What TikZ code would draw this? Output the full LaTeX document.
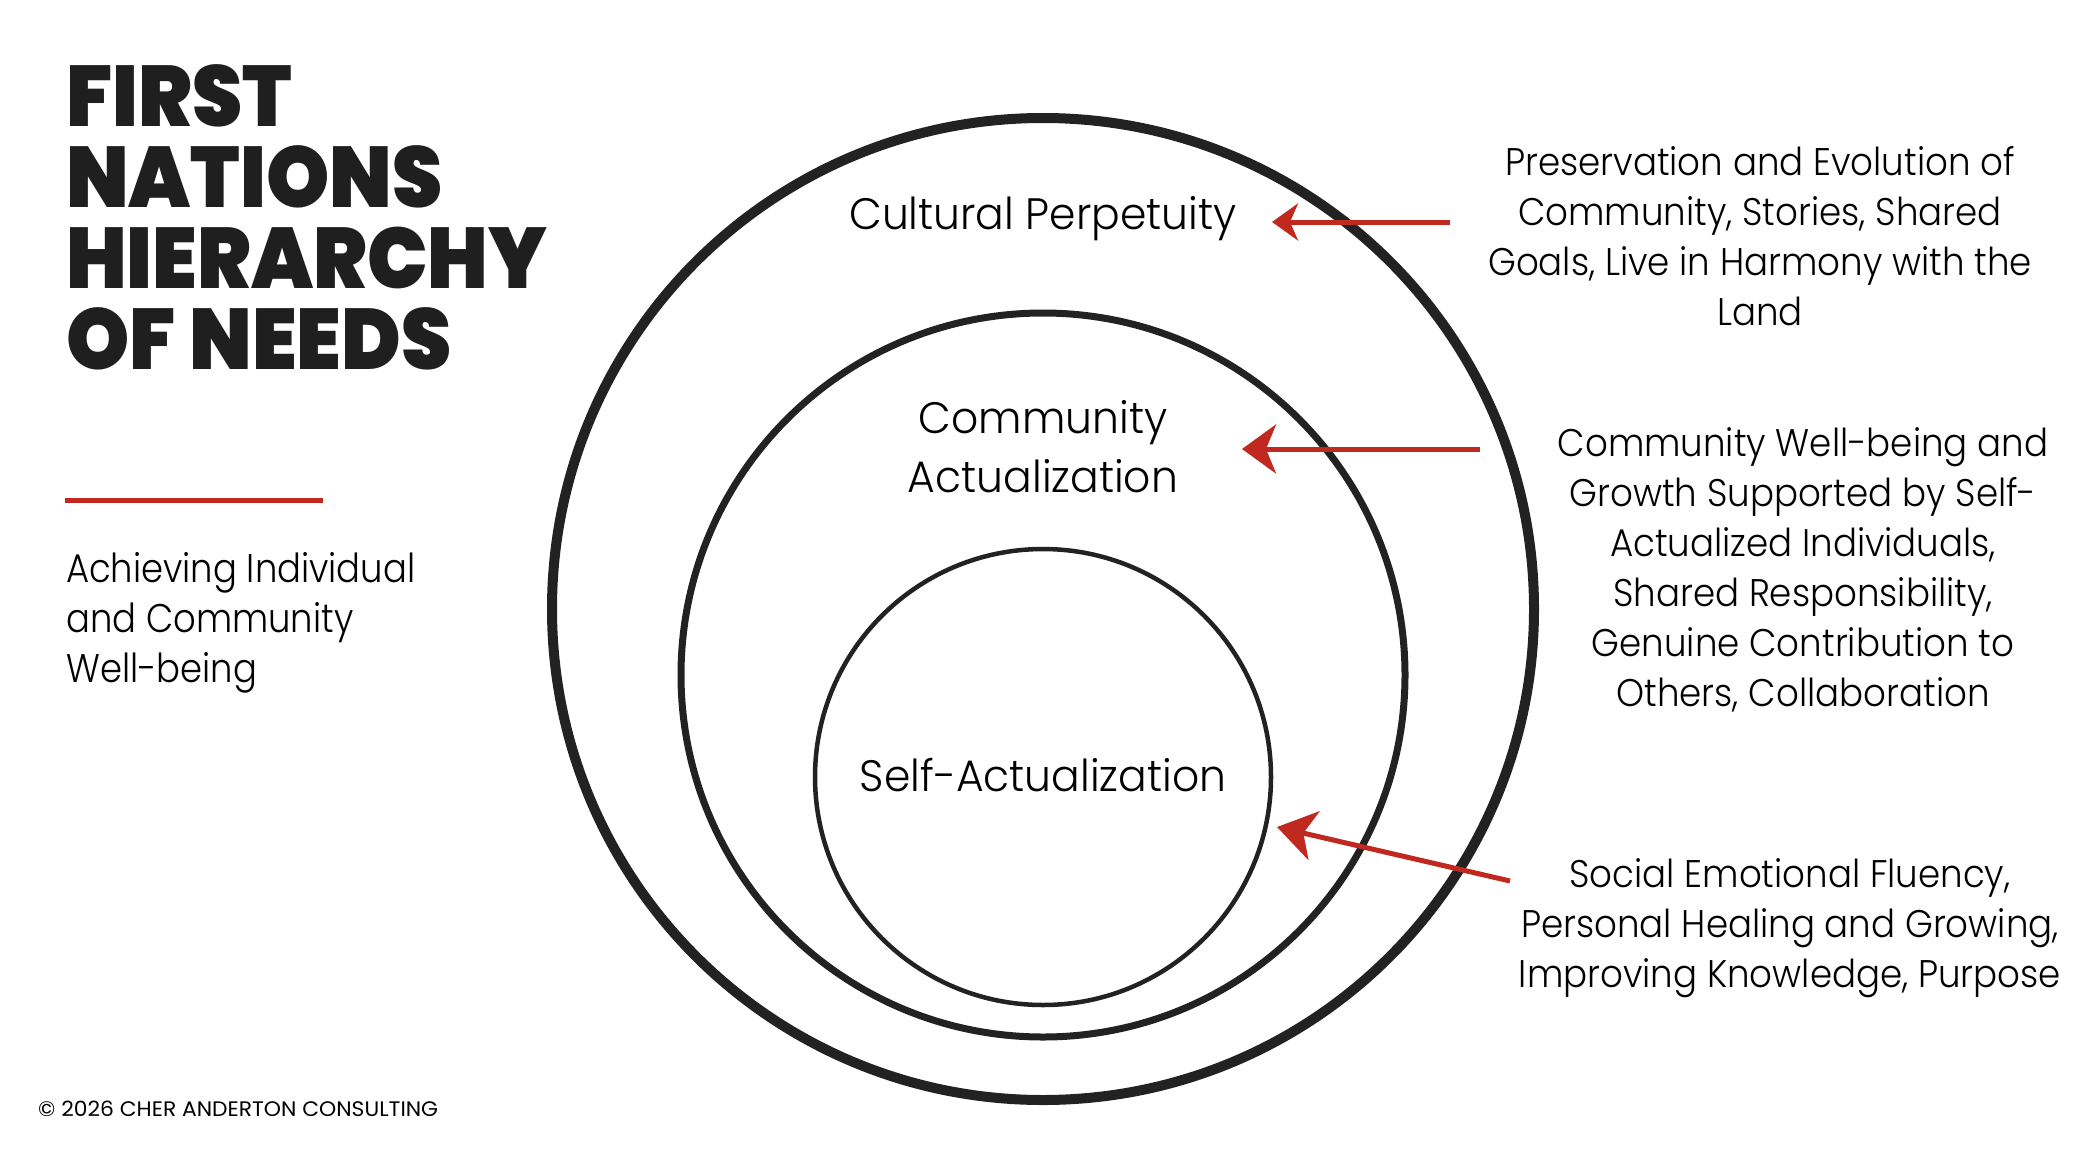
\documentclass[tikz,border=0pt]{standalone}
\usepackage{fontspec}
\usetikzlibrary{arrows.meta}
\newfontfamily\titlefont{Poppins}[UprightFont=* Black, FakeStretch=0.935]
\newfontfamily\subfont{Poppins}[UprightFont=* Light, FakeStretch=0.885]
\newfontfamily\bodyfont{Poppins}[UprightFont=* Light, FakeStretch=0.925]
\newfontfamily\labelfont{Poppins}[UprightFont=* Light, FakeStretch=0.965]
\newfontfamily\smallfont{Poppins}[FakeStretch=1.04]
\definecolor{ink}{HTML}{1F1F20}
\definecolor{ringc}{HTML}{222222}
\definecolor{accent}{HTML}{C0291F}
\begin{document}
\begin{tikzpicture}[x=1pt,y=-1pt,
  ring/.style={circle,draw=ringc,inner sep=0pt,fill=none},
  lbl/.style={inner sep=0pt,anchor=base,align=center,font=\labelfont\fontsize{44}{59}\selectfont},
  desc/.style={inner sep=0pt,anchor=base,align=center,font=\bodyfont\fontsize{38.5}{50}\selectfont},
  pointer/.style={draw=accent,line width=5pt}]
\useasboundingbox (0,0) rectangle (2084,1170);
\fill[white] (0,0) rectangle (2084,1170);
% title (anchor = baseline of last line)
\node[inner sep=0pt,anchor=base west,align=left,text=ink,
  font=\titlefont\fontsize{86}{80.8}\selectfont] (title) at (66,369)
  {FIRST\\NATIONS\\HIERARCHY\\OF NEEDS};
\draw[accent,line width=5pt] (65,500) coordinate (rl) -- (323,500) coordinate (rr);
\node[inner sep=0pt,anchor=base west,align=left,
  font=\subfont\fontsize{40}{50}\selectfont] (sub) at (66,682)
  {Achieving Individual\\and Community\\Well-being};
\node[inner sep=0pt,anchor=base west,font=\smallfont\fontsize{21}{24}\selectfont] (copy) at (38,1116)
  {© 2026 CHER ANDERTON CONSULTING};
% rings
\node[ring,line width=10pt,minimum size=982pt] (outer) at (1043,609) {};
\node[ring,line width=7pt,minimum size=724pt] (middle) at (1043,675) {};
\node[ring,line width=4.5pt,minimum size=456pt] (inner) at (1043,777) {};
% ring labels
\node[lbl] (cp) at (1043,229) {Cultural Perpetuity};
\node[lbl] (ca) at (1043,492) {Community\\Actualization};
\node[lbl] (sa) at (1043,791) {Self-Actualization};
% descriptions
\node[desc] (d1) at (1760,325) {Preservation and Evolution of\\Community, Stories, Shared\\Goals, Live in Harmony with the\\Land};
\node[desc] (d2) at (1803,706) {Community Well-being and\\Growth Supported by Self-\\Actualized Individuals,\\Shared Responsibility,\\Genuine Contribution to\\Others, Collaboration};
\node[desc] (d3) at (1790,987) {Social Emotional Fluency,\\Personal Healing and Growing,\\Improving Knowledge, Purpose};
% arrows
\coordinate (t1) at (1450,222); \coordinate (h1) at (1272,222);
\coordinate (t2) at (1480,449); \coordinate (h2) at (1242,449);
\coordinate (t3) at (1510,881); \coordinate (h3) at (1277,827);
\draw[pointer,-{Stealth[length=26pt,width=37pt,inset=8pt]}] (t1) -- (h1);
\draw[pointer,-{Stealth[length=34pt,width=49pt,inset=10pt]}] (t2) -- (h2);
\draw[pointer,-{Stealth[length=38pt,width=50pt,inset=11pt]}] (t3) -- (h3);
\end{tikzpicture}
\end{document}
